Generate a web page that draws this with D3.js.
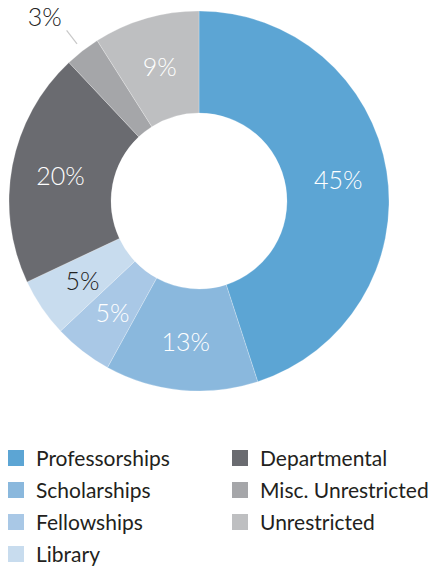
<!DOCTYPE html>
<html lang="en">
<head>
<meta charset="utf-8">
<script src="https://d3js.org/d3.v7.min.js"></script>
<style>
  body { margin: 0; background: #fff; }
  text { font-family: Lato, "Open Sans", sans-serif; }
</style>
</head>
<body>
<script>
  // data
  var categories = ["Professorships", "Scholarships", "Fellowships", "Library",
                    "Departmental", "Misc. Unrestricted", "Unrestricted"];
  var values = [45, 13, 5, 5, 20, 3, 9];
  var colors = ["#5ca5d4", "#8ab8dd", "#a9c8e6", "#c8dcee", "#6a6b70", "#a5a6a9", "#bebfc1"];
  var labelColors = ["#fff", "#fff", "#fff", "#222", "#fff", "#222", "#fff"];

  var w = 431, h = 568;
  var cx = 199, cy = 201;
  var outerR = 190, innerR = 88;

  var svg = d3.select("body").append("svg")
      .attr("width", w)
      .attr("height", h);

  var data = categories.map(function(c, i) { return { name: c, value: values[i], i: i }; });

  var pie = d3.pie()
      .sort(null)
      .value(function(d) { return d.value; });

  var arc = d3.arc().innerRadius(innerR).outerRadius(outerR);
  var labelArc = d3.arc().innerRadius(innerR + 4).outerRadius(outerR);

  var arcs = pie(data);

  var g = svg.append("g").attr("transform", "translate(" + cx + "," + cy + ")");

  g.selectAll("path.slice")
    .data(arcs)
    .enter().append("path")
      .attr("class", "slice")
      .attr("d", arc)
      .attr("fill", function(d) { return colors[d.data.i]; })
      .attr("stroke", "#fff")
      .attr("stroke-opacity", 0.4)
      .attr("stroke-width", 0.6);

  // small slices get an outside label with a leader line
  function mid(d) { return (d.startAngle + d.endAngle) / 2; }
  function polar(r, a) { return [Math.sin(a) * r, -Math.cos(a) * r]; }

  arcs.forEach(function(d) {
    var outside = d.data.value < 4;
    if (outside) {
      var a = mid(d);
      var p1 = polar(outerR + 9, a), p2 = polar(outerR + 26, a), p3 = polar(outerR + 51, a - 0.035);
      g.append("line")
        .attr("x1", p1[0]).attr("y1", p1[1])
        .attr("x2", p2[0]).attr("y2", p2[1])
        .attr("stroke", "#c8c8c8")
        .attr("stroke-width", 1.2);
      g.append("text")
        .attr("x", p3[0]).attr("y", p3[1])
        .attr("text-anchor", "middle")
        .attr("dominant-baseline", "central")
        .attr("font-size", 25)
        .attr("font-weight", 300)
        .attr("fill", "#222")
        .text(d.data.value + "%");
    } else {
      var c = labelArc.centroid(d);
      g.append("text")
        .attr("x", c[0]).attr("y", c[1])
        .attr("text-anchor", "middle")
        .attr("dominant-baseline", "central")
        .attr("font-size", 25)
        .attr("font-weight", 300)
        .attr("fill", labelColors[d.data.i])
        .text(d.data.value + "%");
    }
  });

  // legend, two columns
  var colX = [8, 232];
  var rowY = 450, rowStep = 32, perCol = 4;

  var legend = svg.selectAll("g.legend")
    .data(data)
    .enter().append("g")
      .attr("class", "legend")
      .attr("transform", function(d, i) {
        var col = Math.floor(i / perCol), row = i % perCol;
        return "translate(" + colX[col] + "," + (rowY + row * rowStep) + ")";
      });

  legend.append("rect")
    .attr("width", 16)
    .attr("height", 16)
    .attr("fill", function(d) { return colors[d.i]; });

  legend.append("text")
    .attr("x", 28)
    .attr("y", 16)
    .attr("font-size", 21)
    .attr("fill", "#231f20")
    .text(function(d) { return d.name; });
</script>
</body>
</html>
